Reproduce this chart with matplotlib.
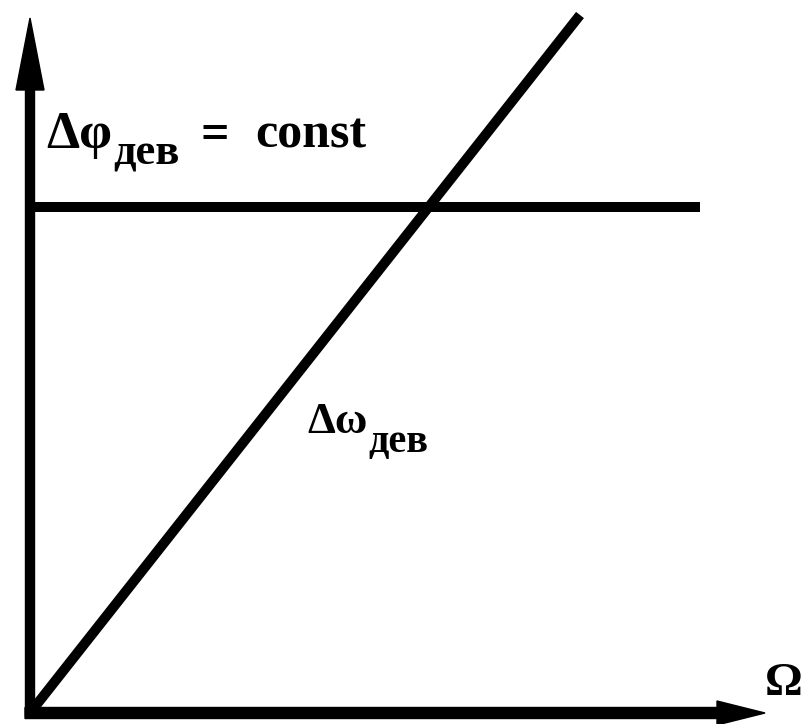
import matplotlib.pyplot as plt

# data (arbitrary units, origin at the axes corner)
omega = [0, 5.50]
dev_omega = [0, 6.98]
const_x = [0, 6.70]
dev_phi = [5.06, 5.06]

plt.rcParams['font.family'] = ['Liberation Serif', 'DejaVu Serif']
plt.rcParams['font.weight'] = 'bold'

fig = plt.figure(figsize=(8.03, 7.24), dpi=100)
ax = fig.add_axes([0, 0, 1, 1])
ax.set_xlim(-0.30, 7.73)
ax.set_ylim(-0.11, 7.13)
ax.axis('off')

# axes with arrows
ax.arrow(0, -0.03, 0, 6.98, width=0.09, head_width=0.28, head_length=0.72,
         length_includes_head=True, color='black')
ax.arrow(-0.05, 0, 7.40, 0, width=0.11, head_width=0.24, head_length=0.48,
         length_includes_head=True, color='black')

# lines
ax.plot(omega, dev_omega, color='black', lw=7.2, solid_capstyle='butt')
ax.plot(const_x, dev_phi, color='black', lw=7.2, solid_capstyle='butt')

# labels
ax.text(0.16, 5.65, 'Δφ', fontsize=38, va='baseline', ha='left')
ax.text(0.83, 5.48, 'дев', fontsize=32, va='baseline', ha='left')
ax.text(1.85, 5.65, '=', fontsize=36, va='baseline', ha='center')
ax.text(2.25, 5.65, 'const', fontsize=36, va='baseline', ha='left')

ax.text(2.77, 2.80, 'Δω', fontsize=32, va='baseline', ha='left')
ax.text(3.38, 2.61, 'дев', fontsize=29, va='baseline', ha='left')

ax.text(7.35, 0.18, 'Ω', fontsize=34, va='baseline', ha='left')

plt.savefig('out.png', dpi=100)
